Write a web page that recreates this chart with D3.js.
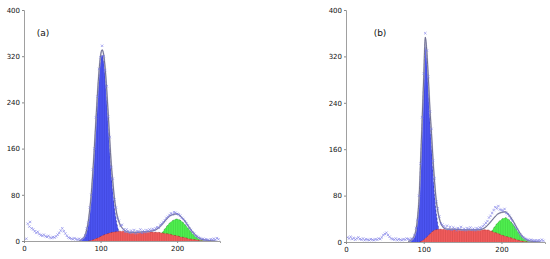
<!DOCTYPE html>
<html><head><meta charset="utf-8">
<script src="https://cdn.jsdelivr.net/npm/d3@7"></script>
<style>body{margin:0;background:#fff}svg{display:block}</style>
</head><body>
<svg id="c" width="550" height="259"></svg>
<script>
const ticksY = [0, 80, 160, 240, 320, 400];
const ticksX = [0, 100, 200];
const panelLabels = ["(a)", "(b)"];

// Panel (a)
const aBlue = [[72,0],[74,1],[76,3],[78,6],[80,11],[82,20],[84,34],[86,55],[88,83],[90,119],[92,161],[94,207],[96,251],[98,288],[100,313],[102,322],[104,313],[106,288],[108,251],[110,207],[112,161],[114,119],[116,88],[118,60],[120,40],[122,26],[124,16],[126,10],[128,6],[130,3],[132,1],[134,0]];
const aRed = [[84,0],[88,1],[92,3],[96,5],[100,8],[105,11],[110,13],[115,15],[120,16],[125,17],[130,17],[135,16],[140,15],[145,15],[150,15],[155,16],[160,16],[165,16],[170,15],[175,15],[180,14],[185,13],[190,12],[195,10],[200,9],[205,7],[210,6],[215,4],[220,3],[225,2],[230,1],[236,0]];
const aGreen = [[162,0],[166,1],[170,3],[175,7],[180,14],[185,23],[190,31],[195,36],[200,38],[205,35],[210,29],[215,21],[220,13],[225,7],[230,3],[235,1],[240,0]];
const aFit = [[72,0],[76,3],[80,11],[84,34],[86,56],[88,84],[90,121],[92,164],[94,211],[96,256],[98,294],[100,321],[102,331],[104,323],[106,299],[108,263],[110,220],[112,175],[114,133],[116,103],[118,75],[120,56],[122,42],[124,33],[126,27],[128,23],[130,20],[132,18],[134,16],[140,15],[145,15],[150,15],[155,16],[160,16],[165,17],[170,18],[175,22],[180,28],[185,36],[190,43],[195,46],[200,47],[205,42],[210,35],[215,25],[220,16],[225,9],[230,4],[235,2],[240,1],[250,0]];
const aPts = [[3,4],[5,30],[7,25],[8,33],[10,22],[12,20],[14,17],[16,14],[18,16],[20,12],[22,10],[24,9],[26,11],[28,8],[30,7],[32,9],[34,6],[36,5],[38,7],[40,6],[42,8],[44,11],[46,14],[48,18],[50,22],[52,17],[54,13],[56,9],[58,6],[60,5],[62,4],[64,3],[66,5],[68,3],[70,2],[72,4],[74,2],[76,3],[78,5],[80,10],[82,22],[84,32],[86,58],[88,80],[90,124],[92,160],[94,214],[96,250],[98,298],[100,318],[102,338],[104,320],[106,296],[108,268],[110,215],[112,180],[114,128],[116,108],[118,72],[120,58],[122,40],[124,35],[126,26],[128,28],[130,20],[132,16],[134,20],[136,17],[138,14],[140,18],[142,15],[144,19],[146,13],[148,17],[150,16],[152,20],[154,14],[156,18],[158,15],[160,19],[162,17],[164,20],[166,18],[168,21],[170,19],[172,22],[174,24],[176,23],[178,28],[180,30],[182,33],[184,36],[186,40],[188,42],[190,45],[192,48],[194,46],[196,50],[198,49],[200,47],[202,46],[204,44],[206,40],[208,38],[210,34],[212,30],[214,27],[216,22],[218,19],[220,15],[222,13],[224,9],[226,8],[228,6],[230,5],[232,3],[234,4],[236,2],[238,3],[240,2],[242,1],[244,3],[246,2],[248,4],[250,2],[252,5],[254,3]];

// Panel (b)
const bBlue = [[80,0],[84,2],[86,5],[88,10],[90,20],[92,40],[94,75],[96,140],[98,210],[100,280],[102,345],[104,320],[106,270],[108,215],[110,170],[112,122],[114,82],[116,52],[118,32],[120,19],[122,10],[124,5],[126,2],[128,0]];
const bRed = [[95,0],[100,4],[105,10],[110,17],[115,21],[120,22],[130,22],[140,22],[150,21],[160,21],[170,21],[180,21],[185,20],[190,17],[195,15],[200,12],[205,10],[210,8],[215,6],[220,4],[225,2],[230,1],[236,0]];
const bGreen = [[172,0],[176,2],[180,5],[185,13],[190,24],[195,33],[200,39],[205,42],[210,38],[215,30],[220,20],[225,11],[230,5],[235,2],[240,0]];
const bFit = [[80,1],[84,3],[86,6],[88,11],[90,21],[92,41],[94,76],[96,141],[98,212],[100,284],[102,353],[104,328],[106,281],[108,229],[110,187],[112,141],[114,103],[116,73],[118,54],[120,41],[122,32],[124,27],[126,24],[130,22],[140,22],[150,21],[160,21],[170,21],[175,22],[180,26],[185,33],[190,41],[195,48],[200,51],[205,52],[210,46],[215,36],[220,24],[225,13],[230,6],[235,2],[240,1],[250,0]];
const bPts = [[2,8],[4,6],[6,9],[8,5],[10,7],[12,4],[14,6],[16,8],[18,5],[20,4],[22,6],[24,3],[26,5],[28,4],[30,3],[32,5],[34,4],[36,3],[38,5],[40,4],[42,6],[44,5],[46,8],[48,12],[50,14],[52,16],[54,12],[56,9],[58,6],[60,5],[62,4],[64,6],[66,3],[68,5],[70,4],[72,3],[74,5],[76,4],[78,6],[80,5],[82,4],[84,6],[86,5],[88,12],[90,24],[92,38],[94,80],[96,135],[98,215],[100,290],[102,360],[104,330],[106,285],[108,225],[110,195],[112,140],[114,110],[116,70],[118,58],[120,44],[122,32],[124,30],[126,27],[128,24],[130,28],[132,22],[134,26],[136,21],[138,25],[140,23],[142,20],[144,24],[146,22],[148,26],[150,21],[152,23],[154,20],[156,24],[158,22],[160,25],[162,21],[164,23],[166,20],[168,24],[170,22],[172,25],[174,24],[176,27],[178,30],[180,33],[182,36],[184,42],[186,45],[188,50],[190,55],[192,60],[194,58],[196,62],[198,56],[200,55],[202,54],[204,57],[206,50],[208,48],[210,45],[212,40],[214,36],[216,30],[218,25],[220,22],[222,17],[224,13],[226,10],[228,8],[230,6],[232,5],[234,4],[236,3],[238,4],[240,3],[242,2],[244,3],[246,2],[248,3],[250,2],[252,4],[254,2]];

const panels = [
  {label: panelLabels[0], x0: 24, x1: 220, y0: 241, y1: 10, blue: aBlue, red: aRed, green: aGreen, fit: aFit, pts: aPts, lx: 43, ly: 36},
  {label: panelLabels[1], x0: 346, x1: 545, y0: 242, y1: 10, blue: bBlue, red: bRed, green: bGreen, fit: bFit, pts: bPts, lx: 380, ly: 36}
];

const svg = d3.select("#c");
const font = "DejaVu Sans";

panels.forEach((p, i) => {
  const x = d3.scaleLinear().domain([0, 256]).range([p.x0, p.x1]);
  const y = d3.scaleLinear().domain([0, 400]).range([p.y0, p.y1]);
  const g = svg.append("g");
  const area = d3.area().x(d => x(d[0])).y0(y(0)).y1(d => y(d[1])).curve(d3.curveMonotoneX);
  const line = d3.line().x(d => x(d[0])).y(d => y(d[1])).curve(d3.curveMonotoneX);

  const comps = [
    {data: p.green, fill: "#50f050", stripe: "rgba(20,110,20,0.25)", edge: "#206020"},
    {data: p.blue, fill: "#4c55f2", stripe: "rgba(20,20,140,0.28)", edge: "#1a1a80"},
    {data: p.red, fill: "#f05c5c", stripe: "rgba(140,30,30,0.25)", edge: "#8a2020"}
  ];
  comps.forEach((c, k) => {
    const id = "clip" + i + "_" + k;
    g.append("clipPath").attr("id", id).append("path").attr("d", area(c.data));
    g.append("path").attr("d", area(c.data)).attr("fill", c.fill);
    const ext = d3.extent(c.data, d => d[0]);
    const chans = d3.range(ext[0], ext[1] + 1, 3);
    g.append("g").attr("clip-path", "url(#" + id + ")")
      .selectAll("line").data(chans).join("line")
      .attr("x1", d => x(d)).attr("x2", d => x(d))
      .attr("y1", y(0)).attr("y2", y(400))
      .attr("stroke", c.stripe).attr("stroke-width", 0.6);
    g.append("path").attr("d", line(c.data)).attr("fill", "none")
      .attr("stroke", c.edge).attr("stroke-width", 0.7).attr("stroke-dasharray", "2,2").attr("opacity", 0.7);
  });

  // fitted envelope
  g.append("path").attr("d", line(p.fit)).attr("fill", "none")
    .attr("stroke", "#c4c4d2").attr("stroke-width", 1.6);
  g.append("path").attr("d", line(p.fit)).attr("fill", "none")
    .attr("stroke", "#4a4a78").attr("stroke-width", 0.7);

  // data points
  g.append("g").selectAll("path").data(p.pts).join("path")
    .attr("d", d => {
      const cx = x(d[0]), cy = y(d[1]);
      return `M${cx-1.2},${cy-1.2}L${cx+1.2},${cy+1.2}M${cx-1.2},${cy+1.2}L${cx+1.2},${cy-1.2}`;
    })
    .attr("stroke", "#7a7ae6").attr("stroke-width", 0.7).attr("opacity", 0.85);

  // axes
  const ay = g.append("g").attr("transform", `translate(${p.x0},0)`)
    .call(d3.axisLeft(y).tickValues(ticksY).tickSize(2).tickPadding(2).tickFormat(d3.format("d")));
  const ax = g.append("g").attr("transform", `translate(0,${p.y0})`)
    .call(d3.axisBottom(x).tickValues(ticksX).tickSize(2).tickPadding(3).tickFormat(d3.format("d")));
  [ay, ax].forEach(a => {
    a.select(".domain").attr("stroke", "#a0a0a0");
    a.selectAll(".tick line").attr("stroke", "#888");
    a.selectAll("text").attr("font-family", font).attr("font-size", 7).attr("fill", "#111");
  });

  g.append("text").attr("x", p.lx).attr("y", p.ly).attr("text-anchor", "middle")
    .attr("font-family", font).attr("font-size", 9).attr("fill", "#111").text(p.label);
});
</script>
</body></html>
